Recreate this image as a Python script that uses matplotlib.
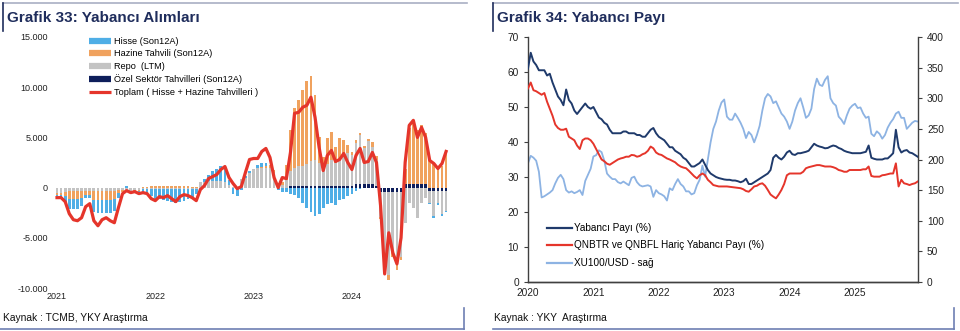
import numpy as np
import matplotlib.pyplot as plt
from matplotlib.lines import Line2D
from matplotlib.ticker import FuncFormatter

plt.rcParams['font.family'] = ['Liberation Sans', 'DejaVu Sans']

# Grafik 33 - yabanci alimlari, yarim aylik, Ocak 2021 - Aralik 2024 (mn $)
hisse = [-100, -200, -600, -1000, -1000, -1000, -800, -300, -300, -1200, -1300, -1300, -1300, -1300, -1200, -500,
         0, 200, 0, -100, -200, -300, -500,
         -700, -1100, -1000, -1100, -1200, -1300, -1400, -1300, -1200, -1000, -900, -500,
         -100, 300, 600, 1000, 1200, 1500, 1500, 500, -600, -800,
         -200, 200, 200, 0, 300, 400, 300, 0, 0, -200, -400,
         -400, -600, -700, -1000, -1500, -2000, -2400, -2800, -2600, -2000, -1600, -1500, -1700, -1200, -1100, -800,
         -600, -300, -100, 0, 0, 0, 0,
         0, 0, 0, 0, 0, 0, 0, 0, 0, 0, 0, 0, -100, -200, -200, -200, -100]
hazine = [-200, -200, -400, -800, -800, -800, -700, -400, -400, -900, -900, -900, -900, -900, -800, -300,
          -200, -100, -100, -100, -100, 100, 100,
          200, 200, 200, 200, 200, 200, 200, 200, 200, 200, 100, 100,
          0, 0, 0, 0, 0, 0, 0, 0, 0, 0,
          0, 0, 0, 0, 0, 100, 200, 300, 300, 0, 300,
          1500, 4000, 5900, 6500, 7500, 8200, 8500, 6500, 2500, 800, 2500, 2800, 1500, 2200, 1500, 800,
          300, 300, 200, 200, 200, 500, 400,
          -200, -500, -500, -500, -600, -300, 1500, 5500, 6200, 5300, 5800, 5000, 2800, 2500, 2000, 2200, 3300]
repo = [-500, -500, -400, -300, -300, -300, -300, -300, -300, -300, -300, -300, -300, -300, -300, -200,
        -200, -300, -300, -200, -200, -100, -100,
        -100, -100, -100, -100, -100, -100, -100, -100, -100, -100, -100, -100,
        600, 600, 700, 700, 700, 700, 600, 300, 100, 100,
        900, 1000, 1500, 1900, 2000, 2000, 2000, 2000, 1500, 500, 300,
        800, 1500, 1800, 2000, 2000, 2200, 2400, 2500, 2300, 2000, 2200, 2500, 2300, 2500, 3000, 3200,
        3000, 4000, 4800, 3500, 4200, 3600, 2500,
        -2500, -7000, -8300, -6000, -7200, -6500, -3500, -1500, -2000, -3000, -1500, -1000, -1200, -2500, -1200, -2300, -2000]
ozel = [0] * 57 + [200] * 16 + [400] * 5 + [200] + [-400] * 6 + [400] * 6 + [-300] * 5
toplam = [-1000, -1000, -1400, -2600, -3200, -3300, -3000, -1900, -1600, -3300, -3800, -3200, -3000, -3300, -3500, -2000,
          -600, -300, -500, -400, -600, -500, -600,
          -1100, -1300, -900, -1000, -800, -1100, -1400, -900, -700, -800, -1000, -1300,
          -200, 200, 900, 1100, 1300, 1800, 2100, 1000, 400, -100,
          100, 1500, 2800, 2900, 2900, 3600, 3900, 3000, 1000, 0, 1000,
          900, 3500, 7400, 7500, 8000, 8200, 9000, 7000, 4000, 1700, 3200, 3700, 2600, 2800, 3400, 2500,
          1800, 3200, 3900, 2500, 2600, 3500, 2500,
          -1800, -8600, -4500, -6500, -7600, -5000, 2500, 6200, 6700, 5000, 6000, 5000, 2700, 2400, 1900, 2400, 3600]

# Grafik 34 - yabanci payi, yarim aylik, Ocak 2020 - Aralik 2025
yabanci_payi = [61, 65.5, 63, 62, 60.5, 60.5, 60.5, 59, 59.5, 57, 55, 53, 52, 50.5, 55, 52,
                51, 49, 48, 49, 50, 51, 50, 49.5, 50, 48.5, 47, 46.5, 45.5, 45, 43.5, 42.5,
                42.5, 42.5, 42.5, 43, 43, 42.5, 42.5, 42.5, 42, 42, 41.5, 41.5, 42.5, 43.5, 44, 42.5,
                41.5, 41, 40.5, 39.5, 38.5, 38.5, 37.5, 37, 36.5, 35.5, 35, 34, 33, 33, 33.5, 34,
                35, 33.5, 32, 31, 30.5, 30, 29.7, 29.5, 29.3, 29.2, 29.2, 29, 29, 28.8, 28.5, 28.8,
                29.5, 28, 28, 28.5, 29, 29.5, 30, 30.5, 31, 32, 35.5, 36.3, 35.5, 35, 35.8, 37,
                37.5, 36.5, 36.3, 36.8, 36.8, 37, 37.2, 37.5, 38.5, 39.5, 39, 38.7, 38.5, 38.2, 38.3, 38.7,
                39, 38.8, 38.3, 38, 37.5, 37.2, 37, 36.8, 36.8, 36.8, 36.8, 37, 37.2, 39, 35.5, 35.2,
                35, 35, 35, 35.3, 35.3, 36, 36.8, 43.5, 38.5, 37, 37.5, 37.7, 37, 36.8, 36.3, 35.8]
qnb_haric = [55.3, 57, 54.8, 54.5, 54, 53.5, 54, 51.5, 49.5, 47.5, 45, 44, 43.5, 43.5, 43.8, 41.5,
             41, 40.5, 39, 38, 40.5, 41, 41, 40.5, 39.5, 38, 36.5, 35, 34.5, 33.8, 33.5, 34,
             34.5, 35, 35.3, 35.5, 35.8, 35.8, 36.3, 36.2, 35.8, 36, 36.5, 36.8, 37.5, 38.7, 38.2, 37,
             36.5, 36.3, 35.8, 35.3, 35, 34.6, 34.2, 33.5, 33, 32.7, 32.5, 31.8, 31, 30.2, 29.6, 30.5,
             31, 30.5, 29.2, 28.5, 27.7, 27.5, 27.3, 27.3, 27.3, 27.3, 27.2, 27.1, 27, 26.9, 26.8, 26.5,
             26, 25.8, 26.5, 27.3, 27.5, 28, 28.2, 27.5, 26.3, 25, 24.4, 23.9, 25, 26.3, 28, 30.5,
             31, 31, 31, 31, 31, 31.5, 32.5, 32.8, 33, 33.2, 33.4, 33.4, 33.2, 33, 33, 33,
             32.8, 32.5, 32, 31.8, 31.5, 31.5, 32, 32, 32, 32, 32, 32.2, 32.2, 33, 30.3, 30.1,
             30.1, 30.1, 30.5, 30.6, 30.8, 31, 31, 33.9, 27.3, 29.2, 28.2, 28, 27.7, 28, 28.2, 28.7]
xu100_usd = [194, 206, 203, 198, 180, 138, 140, 143, 146, 150, 161, 170, 175, 168, 150, 146,
             148, 145, 147, 150, 142, 165, 175, 185, 205, 207, 215, 212, 198, 177, 172, 168,
             168, 163, 161, 164, 161, 158, 170, 172, 163, 158, 156, 157, 158, 156, 139, 150,
             145, 143, 140, 133, 153, 150, 160, 168, 160, 156, 148, 148, 143, 145, 158, 167,
             190, 172, 200, 228, 250, 262, 280, 293, 298, 270, 265, 265, 275, 268, 260, 250,
             235, 245, 240, 228, 240, 255, 280, 300, 307, 303, 292, 295, 285, 275, 270, 262,
             250, 262, 280, 292, 300, 285, 268, 272, 283, 315, 332, 322, 320, 330, 336, 300,
             292, 288, 270, 265, 258, 272, 283, 288, 291, 284, 285, 275, 268, 270, 242, 238,
             246, 242, 234, 240, 252, 260, 266, 275, 278, 268, 268, 250, 255, 260, 263, 262]

left_years = [2021, 2022, 2023, 2024]
right_years = [2020, 2021, 2022, 2023, 2024, 2025]

navy_title = '#1F2D5C'
c_hisse = '#4FAEE6'
c_hazine = '#F0A25E'
c_repo = '#C3C3C3'
c_ozel = '#0E1E5B'
c_toplam = '#E5352B'

fig = plt.figure(figsize=(9.6, 3.31), dpi=100)
W, H = 960.0, 331.0

def fx(px):
    return px / W

def fy(py):
    return 1 - py / H

# --- panel frames (header / footer boxes) ---
for x0, x1 in [(3, 467), (493, 958)]:
    fig.add_artist(Line2D([fx(x0), fx(x1)], [fy(3), fy(3)], color='#A9AFC4', lw=1.2))
    fig.add_artist(Line2D([fx(x0), fx(x0)], [fy(3), fy(31)], color=navy_title, lw=1.2))
for x0, x1 in [(0, 464), (493, 954)]:
    fig.add_artist(Line2D([fx(x0), fx(x1)], [fy(329), fy(329)], color='#6E7FB3', lw=1.2))
    fig.add_artist(Line2D([fx(x1), fx(x1)], [fy(308), fy(329)], color='#6E7FB3', lw=1.2))

fig.text(fx(7), fy(18), 'Grafik 33: Yabancı Alımları', fontsize=11, fontweight='bold',
         color=navy_title, va='center', ha='left')
fig.text(fx(497), fy(18), 'Grafik 34: Yabancı Payı', fontsize=11, fontweight='bold',
         color=navy_title, va='center', ha='left')
fig.text(fx(3), fy(318), 'Kaynak : TCMB, YKY Araştırma', fontsize=7.4, color='#111111',
         va='center', ha='left')
fig.text(fx(494), fy(318), 'Kaynak : YKY  Araştırma', fontsize=7.4, color='#111111',
         va='center', ha='left')

# --- Grafik 33 ---
ax1 = fig.add_axes([fx(55), fy(288), fx(400), (288 - 37) / H])
n1 = len(toplam)
x1 = 2021 + np.arange(n1) / 24.0
bw = 0.028

pos_base = np.zeros(n1)
neg_base = np.zeros(n1)
for vals, col in [(ozel, c_ozel), (repo, c_repo), (hazine, c_hazine), (hisse, c_hisse)]:
    v = np.array(vals, dtype=float)
    bottom = np.where(v >= 0, pos_base, neg_base)
    ax1.bar(x1, v, width=bw, bottom=bottom, color=col, linewidth=0, zorder=2)
    pos_base = pos_base + np.where(v > 0, v, 0)
    neg_base = neg_base + np.where(v < 0, v, 0)

ax1.plot(x1, toplam, color=c_toplam, lw=2.3, zorder=3, solid_joinstyle='round')

ax1.set_xlim(2021 - 2 / 98.3, 2021 + 398 / 98.3)
ax1.set_ylim(-10000, 15000)
ax1.set_yticks([-10000, -5000, 0, 5000, 10000, 15000])
ax1.yaxis.set_major_formatter(FuncFormatter(lambda v, p: f'{v:,.0f}'.replace(',', '.')))
ax1.set_xticks(left_years)
ax1.set_xticklabels([str(y) for y in left_years])
for s in ax1.spines.values():
    s.set_visible(False)
ax1.tick_params(axis='both', length=0, labelsize=6.5, colors='#222222')
ax1.tick_params(axis='x', pad=3)
ax1.tick_params(axis='y', pad=5)
ax1.patch.set_alpha(0)

h1 = [Line2D([], [], color=c_hisse, lw=4.5, solid_capstyle='butt'),
      Line2D([], [], color=c_hazine, lw=4.5, solid_capstyle='butt'),
      Line2D([], [], color=c_repo, lw=4.5, solid_capstyle='butt'),
      Line2D([], [], color=c_ozel, lw=4.5, solid_capstyle='butt'),
      Line2D([], [], color=c_toplam, lw=2.3, solid_capstyle='butt')]
l1 = ['Hisse (Son12A)', 'Hazine Tahvili (Son12A)', 'Repo  (LTM)',
      'Özel Sektör Tahvilleri (Son12A)', 'Toplam ( Hisse + Hazine Tahvilleri )']
fig.legend(h1, l1, loc='upper left', bbox_to_anchor=(fx(89), fy(37)), frameon=False,
           fontsize=6.6, handlelength=2.4, handletextpad=0.3, labelspacing=0.38,
           borderpad=0, borderaxespad=0)

# --- Grafik 34 ---
ax2 = fig.add_axes([fx(528), fy(282), fx(390), (282 - 37) / H])
n2 = len(yabanci_payi)
x2 = 2020 + np.arange(n2) / 24.0
c_pay = '#1F3A6B'
c_qnb = '#E5352B'
c_xu = '#8DB3E3'

ax3 = ax2.twinx()
ax3.plot(x2, xu100_usd, color=c_xu, lw=1.3, zorder=1)
ax2.plot(x2, yabanci_payi, color=c_pay, lw=1.4, zorder=3)
ax2.plot(x2, qnb_haric, color=c_qnb, lw=1.4, zorder=3)
ax2.set_zorder(ax3.get_zorder() + 1)
ax2.patch.set_visible(False)

ax2.set_xlim(2020, 2020 + 390 / 65.4)
ax2.set_ylim(0, 70)
ax3.set_ylim(0, 400)
ax2.set_yticks(range(0, 71, 10))
ax3.set_yticks(range(0, 401, 50))
ax2.set_xticks(right_years)
ax2.set_xticklabels([str(y) for y in right_years])
for a in (ax2, ax3):
    a.spines['top'].set_visible(False)
    for s in a.spines.values():
        s.set_color('#404040')
        s.set_linewidth(1.0)
ax3.spines['left'].set_visible(False)
ax2.spines['right'].set_visible(False)
ax2.tick_params(axis='both', labelsize=7.3, colors='#222222', length=3, width=0.8, color='#404040')
ax2.tick_params(axis='x', length=0, pad=4)
ax3.tick_params(axis='y', labelsize=7.3, colors='#222222', length=3, width=0.8, color='#404040')

h2 = [Line2D([], [], color=c_pay, lw=1.6),
      Line2D([], [], color=c_qnb, lw=1.6),
      Line2D([], [], color=c_xu, lw=1.6)]
l2 = ['Yabancı Payı (%)', 'QNBTR ve QNBFL Hariç Yabancı Payı (%)', 'XU100/USD - sağ']
fig.legend(h2, l2, loc='upper left', bbox_to_anchor=(fx(547), fy(223)), frameon=False,
           fontsize=7.2, handlelength=2.5, handletextpad=0.15, labelspacing=0.75,
           borderpad=0, borderaxespad=0)

fig.savefig('out.png', dpi=100)
